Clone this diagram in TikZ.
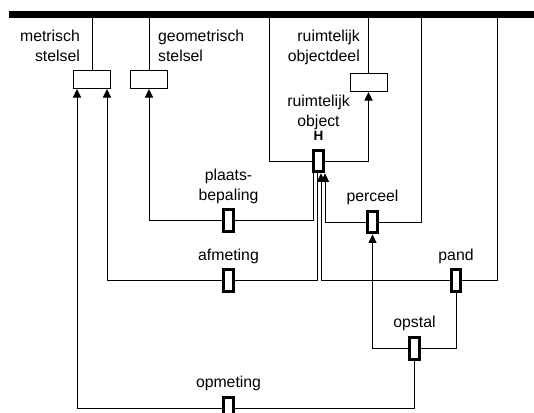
\documentclass[tikz,border=0pt]{standalone}
\usepackage{fontspec}
\setmainfont{Liberation Sans}
\usetikzlibrary{arrows.meta}

\tikzset{
  entity/.style={draw, line width=1pt, fill=white, minimum width=37pt, minimum height=18pt, inner sep=0pt},
  role/.style={draw, line width=3.2pt, fill=white, minimum width=9.5pt, minimum height=21.5pt, inner sep=0pt},
  lbl/.style={inner sep=0pt, font=\fontsize{15.8}{20}\selectfont},
  link/.style={line width=1pt},
}

\begin{document}
\begin{tikzpicture}[x=1pt, y=-1pt, >={Triangle[length=8.5pt, width=8pt]}]
    \useasboundingbox (0,0) rectangle (534,412);

    % Draw the top bar
    \draw[line width=7pt] (9,14.5) -- (534,14.5);
    \coordinate (top) at (0,14.5);
    \coordinate (top-ro) at (269,14.5);
    \coordinate (top-pc) at (421,14.5);
    \coordinate (top-pd) at (497,14.5);

    % --- Entity boxes ---
    \node[entity] (ms) at (92,79.5) {};
    \node[entity] (gs) at (149,79.5) {};
    \node[entity] (rod) at (368.5,82.5) {};

    % --- Role boxes (thick) ---
    \foreach \n/\x/\y in {ro/318.5/161, pb/228.5/220.5, af/228.5/280.5, pc/372.5/222,
                          pd/456/280.5, os/414.5/348.5, om/228.5/408.5} {
        \node[role] (\n) at (\x,\y) {};
    }

    % --- Labels ---
    \node[lbl, anchor=east, align=right] (ms-lbl) at (80,46) {metrisch\\stelsel};
    \node[lbl, anchor=west, align=left] (gs-lbl) at (158,46) {geometrisch\\stelsel};
    \node[lbl, anchor=east, align=right] (rod-lbl) at (360,47) {ruimtelijk\\objectdeel};
    \node[lbl, align=center] (ro-lbl) at (318.5,112.5) {ruimtelijk\\object};
    \node[lbl, font=\fontsize{13.5}{15}\selectfont\bfseries] (ro-key) at (318.5,136) {H};
    \node[lbl, align=center] (pb-lbl) at (228.5,186) {plaats-\\bepaling};
    \node[lbl] (af-lbl) at (228.5,256) {afmeting};
    \node[lbl] (pc-lbl) at (372.5,197) {perceel};
    \node[lbl] (pd-lbl) at (456,256) {pand};
    \node[lbl] (os-lbl) at (414.5,323) {opstal};
    \node[lbl] (om-lbl) at (228.5,383) {opmeting};

    % bar to entity boxes
    \draw[link] (ms.north) -- (ms.north |- top);
    \draw[link] (gs.north) -- (gs.north |- top);
    \draw[link] (rod.north) -- (rod.north |- top);

    % ruimtelijk object
    \draw[link] (top-ro) |- (ro.west);
    \draw[link, ->] (ro.east) -| (rod.south);

    % plaatsbepaling
    \draw[link] ([xshift=-5.5pt]ro.south) |- (pb.east);
    \draw[link, ->] (pb.west) -| (gs.south);

    % afmeting
    \draw[link] ([xshift=-1.5pt]ro.south) |- (af.east);
    \draw[link, ->] (af.west) -| ([xshift=15pt]ms.south);

    % perceel and pand point up to H
    \draw[link, ->] (pc.west) -| ([xshift=6.5pt]ro.south);
    \draw[link] (pc.east) -| (top-pc);
    \draw[link, ->] (pd.west) -| ([xshift=2.5pt]ro.south);
    \draw[link] (pd.east) -| (top-pd);

    % opstal
    \draw[link, ->] (os.west) -| (pc.south);
    \draw[link] (os.east) -| (pd.south);

    % opmeting
    \draw[link] (os.south) |- (om.east);
    \draw[link, ->] (om.west) -| ([xshift=-15pt]ms.south);
\end{tikzpicture}
\end{document}
